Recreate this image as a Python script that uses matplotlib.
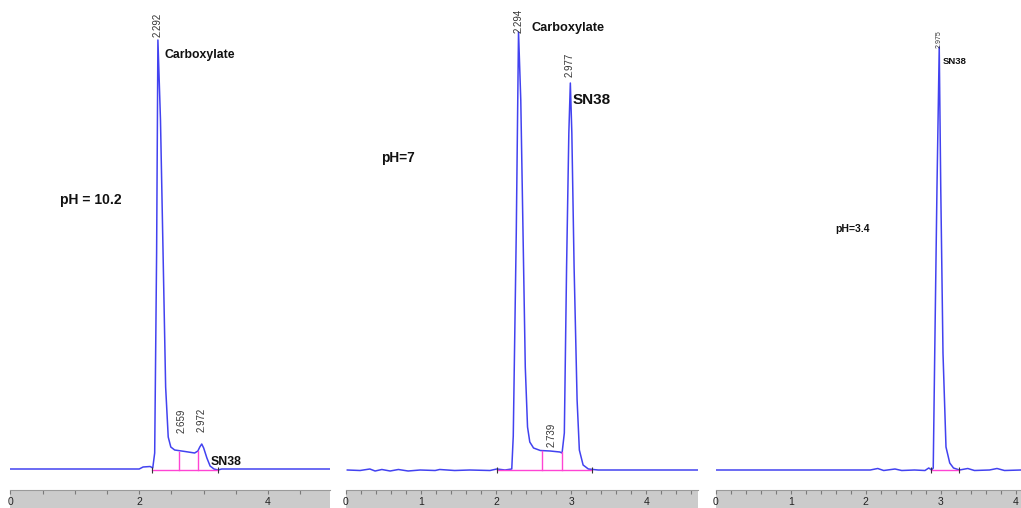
import matplotlib
matplotlib.use('Agg')
import matplotlib.pyplot as plt
import numpy as np

# HPLC traces of SN38 at three pH values
# time in min, signal in arbitrary units (baseline ~0)

# pH 10.2
t_ph10 = [0.00, 2.00, 2.06, 2.17, 2.21, 2.24, 2.27, 2.29, 2.33, 2.37, 2.41, 2.45, 2.49,
          2.55, 2.71, 2.86, 2.91, 2.94, 2.97, 3.00, 3.05, 3.10, 3.16, 3.22, 3.28, 4.96]
s_ph10 = [0, 0, 2, 2.5, 1, 16, 216, 429, 349, 216, 82, 32, 22,
          19, 17.5, 16, 18, 22, 25, 21, 11, 3, 0, -1, 0, 0]

# pH 7
t_ph7 = [0.02, 0.19, 0.32, 0.39, 0.48, 0.59, 0.70, 0.83, 0.99, 1.19, 1.25, 1.45, 1.65, 1.92,
         2.01, 2.12, 2.21, 2.23, 2.27, 2.30, 2.33, 2.36, 2.39, 2.42, 2.45, 2.50, 2.59, 2.72,
         2.85, 2.88, 2.91, 2.94, 2.97, 2.99, 3.01, 3.04, 3.08, 3.11, 3.16, 3.23, 3.36, 4.69]
s_ph7 = [-1, -1.5, 0, -2, -0.5, -2, -0.5, -2, -1, -1.5, -0.5, -1.5, -1, -1.5,
         0, -1, 0, 33, 236, 437, 369, 236, 102, 42, 27, 21, 18.5, 18,
         17, 16, 36, 202, 336, 386, 336, 202, 69, 19, 4, 0, -1, -1]

# pH 3.4
t_ph3 = [0.00, 2.06, 2.16, 2.24, 2.39, 2.48, 2.65, 2.79, 2.84, 2.88, 2.90, 2.92, 2.95,
         2.98, 3.00, 3.03, 3.07, 3.12, 3.17, 3.25, 3.36, 3.45, 3.65, 3.75, 3.85, 4.07]
s_ph3 = [-1, -1, 0.5, -1.5, 0, -1.5, -1, -1.5, 1, -1, 1, 116, 282,
         422, 282, 116, 22, 6, 1, -1, 0.5, -1.5, -1, 0.5, -1.5, -1]

# integration: baseline start/end and drop lines (time, height)
integ_ph10 = (2.20, 3.22)
drops_ph10 = [(2.62, 17), (2.915, 18)]
integ_ph7 = (2.01, 3.28)
drops_ph7 = [(2.61, 18), (2.875, 17)]
integ_ph3 = (2.87, 3.24)
drops_ph3 = []

W, H = 1021, 508
fig = plt.figure(figsize=(W / 100, H / 100), dpi=100)
fig.patch.set_facecolor('white')

blue = '#4242f0'
pink = '#ff44d4'
plain = ['Liberation Sans', 'DejaVu Sans']


def panel(left_px, right_px, xmax, t, s, integ, drops, minor, major):
    # trace
    ax = fig.add_axes([left_px / W, 20 / H, (right_px - left_px) / W, 488 / H])
    ax.plot(t, s, color=blue, lw=1.1)
    ax.plot(integ, [-1, -1], color=pink, lw=1.0)
    for x, h in drops:
        ax.plot([x, x], [-1, h], color=pink, lw=1.0)
    ax.plot(integ, [-1, -1], ls='none', marker='|', ms=5, color='#333333', mew=0.8)
    ax.set_xlim(0, xmax)
    ax.set_ylim(-19, 469)
    ax.axis('off')

    # grey time scale strip
    bar = fig.add_axes([left_px / W, 0, (right_px - left_px) / W, 18 / H])
    bar.set_facecolor('#cbcbcb')
    bar.set_xlim(0, xmax)
    bar.set_ylim(0, 1)
    for sp in ['left', 'right', 'bottom']:
        bar.spines[sp].set_visible(False)
    bar.spines['top'].set_color('#9a9a9a')
    bar.set_xticks(np.arange(0, xmax + 0.001, minor))
    bar.tick_params(axis='x', direction='in', bottom=False, top=True, length=3,
                    color='#7a7a7a', labelbottom=False)
    bar.set_yticks([])
    for m in major:
        bar.text(m, 0.06, str(m), ha='center', va='bottom', fontsize=7.5,
                 color='#222222', family=plain)
    return ax


ax1 = panel(10.3, 330, 4.96, t_ph10, s_ph10, integ_ph10, drops_ph10, 0.5, [0, 2, 4])
ax2 = panel(345.8, 698, 4.69, t_ph7, s_ph7, integ_ph7, drops_ph7, 0.2, [0, 1, 2, 3, 4])
ax3 = panel(715.7, 1021, 4.07, t_ph3, s_ph3, integ_ph3, drops_ph3, 0.2, [0, 1, 2, 3, 4])

# retention time labels
rt_kw = dict(rotation=90, ha='center', va='bottom', color='#333333', family=plain)
ax1.text(2.292, 432, '2.292', fontsize=7, **rt_kw)
ax1.text(2.659, 36, '2.659', fontsize=7, **rt_kw)
ax1.text(2.972, 37, '2.972', fontsize=7, **rt_kw)
ax2.text(2.294, 436, '2.294', fontsize=7, **rt_kw)
ax2.text(2.977, 392, '2.977', fontsize=7, **rt_kw)
ax2.text(2.739, 22, '2.739', fontsize=7, **rt_kw)
ax3.text(2.975, 421, '2.975', fontsize=5, **rt_kw)

# peak names and pH
lab_kw = dict(va='center', family=plain, fontweight='bold', color='#111111')
ax1.text(2.40, 414, 'Carboxylate', fontsize=8.8, **lab_kw)
ax1.text(3.11, 7, 'SN38', fontsize=8.8, **lab_kw)
ax1.text(0.77, 269, 'pH = 10.2', fontsize=10, **lab_kw)
ax2.text(2.47, 441, 'Carboxylate', fontsize=9.2, **lab_kw)
ax2.text(3.02, 369, 'SN38', fontsize=11, **lab_kw)
ax2.text(0.47, 311, 'pH=7', fontsize=9.8, **lab_kw)
ax3.text(3.03, 407, 'SN38', fontsize=6.8, **lab_kw)
ax3.text(1.59, 240, 'pH=3.4', fontsize=7.5, **lab_kw)

plt.savefig('out.png', dpi=100, facecolor='white')
